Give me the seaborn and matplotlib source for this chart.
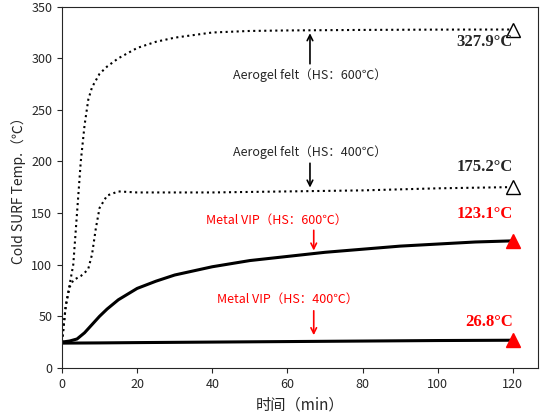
import numpy as np
import pandas as pd
import seaborn as sns
import matplotlib.pyplot as plt

sns.set_style("ticks")
plt.rcParams['font.family'] = ['Noto Sans CJK SC', 'DejaVu Sans']

# valeurs
t_a600 = [0, 1, 2, 3, 4, 5, 6, 7, 8, 10, 12, 15, 20, 25, 30, 40, 50, 60, 80, 100, 120]
y_a600 = [25, 60, 80, 100, 150, 200, 235, 260, 272, 285, 292, 300, 310, 316, 320, 325, 326.5, 327, 327.5, 327.8, 327.9]
t_a400 = [0, 1, 2, 3, 4, 5, 6, 7, 8, 9, 10, 12, 15, 20, 30, 40, 60, 80, 100, 120]
y_a400 = [25, 60, 78, 85, 87, 89, 92, 96, 110, 135, 155, 167, 171, 170, 170, 170, 171, 172, 174, 175.2]
t_v600 = [0, 2, 4, 6, 8, 10, 12, 15, 20, 25, 30, 40, 50, 60, 70, 80, 90, 100, 110, 120]
y_v600 = [25, 26, 28, 34, 42, 50, 57, 66, 77, 84, 90, 98, 104, 108, 112, 115, 118, 120, 122, 123.1]
t_v400 = [0, 10, 20, 40, 60, 80, 100, 120]
y_v400 = [24, 24.2, 24.5, 25, 25.5, 26, 26.5, 26.8]

fig = plt.figure(figsize=(5.51, 4.19), dpi=100)
ax = fig.add_axes([0.1125, 0.122, 0.864, 0.862])

sns.lineplot(x=t_a600, y=y_a600, ax=ax, color="black", linestyle=":", lw=1.5)
sns.lineplot(x=t_a400, y=y_a400, ax=ax, color="black", linestyle=":", lw=1.5)
sns.lineplot(x=t_v600, y=y_v600, ax=ax, color="black", lw=2.2)
sns.lineplot(x=t_v400, y=y_v400, ax=ax, color="black", lw=2.2)

ax.plot([120, 120], [y_a600[-1], y_a400[-1]], "^", ms=10, mfc="white", mec="black", ls="none")
ax.plot([120, 120], [y_v600[-1], y_v400[-1]], "^", ms=10, color="red", ls="none")

vf = dict(ha="right", va="center", fontweight="bold", fontsize=12, family=["Liberation Serif", "DejaVu Serif"])
ax.text(120, 316, "327.9°C", **vf)
ax.text(120, 195, "175.2°C", **vf)
ax.text(120, 149, "123.1°C", color="red", **vf)
ax.text(120, 44, "26.8°C", color="red", **vf)

arr = dict(arrowstyle="->", color="black", lw=1.2)
ax.text(66, 284, "Aerogel felt（HS：600℃）", ha="center", va="center", fontsize=9)
ax.annotate("", xy=(66, 327), xytext=(66, 292), arrowprops=arr)
ax.text(66, 209, "Aerogel felt（HS：400℃）", ha="center", va="center", fontsize=9)
ax.annotate("", xy=(66, 172), xytext=(66, 201), arrowprops=arr)
arr_r = dict(arrowstyle="->", color="red", lw=1.2)
ax.text(57, 143, "Metal VIP（HS：600℃）", ha="center", va="center", fontsize=9, color="red")
ax.annotate("", xy=(67, 111), xytext=(67, 136), arrowprops=arr_r)
ax.text(60, 66, "Metal VIP（HS：400℃）", ha="center", va="center", fontsize=9, color="red")
ax.annotate("", xy=(67, 29), xytext=(67, 58), arrowprops=arr_r)

ax.set_xlim(0, 126.7)
ax.set_ylim(0, 350)
ax.set_xticks(range(0, 121, 20))
ax.set_yticks(range(0, 351, 50))
ax.set_xlabel("时间（min）", fontsize=11)
ax.set_ylabel("Cold SURF Temp.（℃）", fontsize=10)
ax.tick_params(labelsize=9)

fig.savefig("out.png", dpi=100)
